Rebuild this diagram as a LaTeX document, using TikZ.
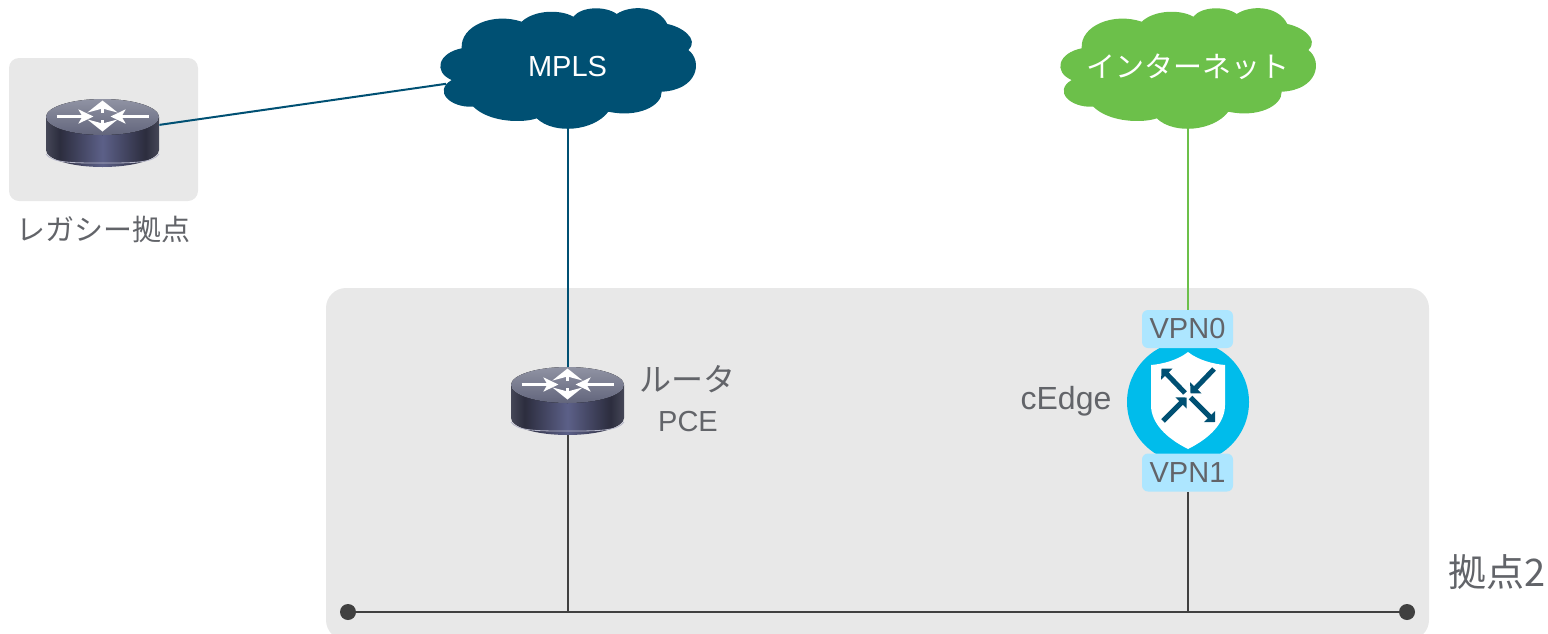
\documentclass[tikz,border=0pt]{standalone}
\usepackage{fontspec}
\setmainfont{Liberation Sans}
\newfontfamily\jpfont{Noto Sans CJK JP}
\usetikzlibrary{arrows.meta}
\definecolor{mplsblue}{HTML}{005073}
\definecolor{netgreen}{HTML}{6CC04A}
\definecolor{sitegray}{HTML}{E8E8E8}
\definecolor{labelgray}{HTML}{626469}
\definecolor{busgray}{HTML}{404040}
\definecolor{edgecyan}{HTML}{00BCEB}
\definecolor{tagblue}{HTML}{ADE6FF}
\definecolor{rtrb}{HTML}{454757}
\definecolor{rtrd}{HTML}{2C2D3E}
\definecolor{rtrm}{HTML}{5C6088}
\definecolor{rtrtop}{HTML}{9093A3}
\definecolor{rtrlow}{HTML}{62657C}
\pgfdeclarehorizontalshading{rtrbody}{100bp}{color(0bp)=(rtrb); color(25bp)=(rtrb); color(31bp)=(rtrd); color(50bp)=(rtrm); color(69bp)=(rtrd); color(75bp)=(rtrb); color(100bp)=(rtrb)}
\tikzset{
  lbl/.style={text=labelgray,font=\fontsize{14.5}{17}\selectfont,inner sep=0pt,align=center},
  lblbig/.style={lbl,font=\fontsize{16}{19}\selectfont},
  lblwhite/.style={text=white,font=\fontsize{14.5}{17}\selectfont,inner sep=0pt,minimum width=121pt,minimum height=60pt},
  rtrnode/.style={inner sep=0pt,minimum width=56.5pt,minimum height=34pt},
  tag/.style={fill=tagblue,rounded corners=3pt,text=labelgray,font=\fontsize{14.5}{17}\selectfont,inner sep=0pt,minimum width=45.5pt,minimum height=19pt},
  busdot/.style={circle,fill=busgray,inner sep=0pt,minimum size=8pt},
  hhead/.style={white,line width=1.4pt,-{Stealth[length=7.5pt,width=7pt,inset=2pt]}},
  vhead/.style={white,line width=1.8pt,-{Stealth[length=6pt,width=15pt,inset=2pt]}},
  shieldarrow/.style={mplsblue,line width=2.5pt,-{Triangle[angle=90:5.5pt]}},
  pics/cloud/.style={code={
    \fill[#1] (-46.3,-44.3) .. controls (-34,-56) and (-8,-57) .. (5.3,-49.3)
      .. controls (14,-60) and (38,-60) .. (48.7,-52)
      .. controls (62,-61) and (90,-61) .. (99.3,-42)
      .. controls (113,-39.5) and (132,-27) .. (120.3,-16)
      .. controls (135,-5) and (130,24) .. (93.7,25.7)
      .. controls (94,40) and (70,52) .. (40.3,45.7)
      .. controls (26,65) and (-14,69) .. (-31.3,52.3)
      .. controls (-44,57) and (-78,57) .. (-94.7,40.7)
      .. controls (-118,42) and (-135,25) .. (-116.3,14)
      .. controls (-135,6) and (-130,-13) .. (-106.3,-17.7)
      .. controls (-108,-40) and (-75,-54) .. cycle;
  }},
  pics/router/.style={code={
    \shade[shading=rtrbody] (-56.5,-16) -- (-56.5,17)
      .. controls (-56.5,26.4) and (-31.2,34) .. (0,34)
      .. controls (31.2,34) and (56.5,26.4) .. (56.5,17) -- (56.5,-16) -- cycle;
    \draw[white!55!rtrm,line width=.4pt] (-56.5,21)
      .. controls (-50,30) and (-31.2,30) .. (0,30)
      .. controls (31.2,30) and (50,30) .. (56.5,21);
    \fill[top color=rtrtop,bottom color=rtrlow] (0,-16) ellipse [x radius=56.5,y radius=18];
    \draw[hhead] (-46,-16.5) -- (-9,-16.5);
    \draw[hhead] (46,-16.5) -- (8,-16.5);
    \draw[vhead] (0,-20) -- (0,-32.5);
    \draw[vhead] (0,-13) -- (0,-1.5);
  }}
}
\begin{document}
\begin{tikzpicture}[x=.5pt,y=-.5pt]
\useasboundingbox (0,0) rectangle (1548,633);
\clip (0,0) rectangle (1548,633);

\fill[sitegray,rounded corners=5pt] (9,58) rectangle (198,201);
\fill[sitegray,rounded corners=10pt] (326,288) rectangle (1429,640);

\pic at (568,66) {cloud=mplsblue};
\pic at (1188,66) {cloud=netgreen};
\pic at (102.5,133) {router};
\pic at (567.5,401) {router};

\node[lblwhite] (mpls) at (567.5,66.5) {MPLS};
\node[lblwhite] (inet) at (1187.5,66.5) {\jpfont インターネット};
\node[rtrnode] (legacy) at (102.5,133) {};
\node[rtrnode] (pce) at (567.5,401) {};

\node[lbl] (legacylbl) at (104,229) {\jpfont レガシー拠点};
\node[lblbig] (rtrlbl) at (687,379) {\jpfont ルータ};
\node[lbl] (pcelbl) at (688,422) {PCE};
\node[lblbig] (edgelbl) at (1066,401) {cEdge};
\node[lbl,font=\fontsize{19}{22}\selectfont] (sitelbl) at (1497,572) {\jpfont 拠点2};

\fill[edgecyan] (1188,402) circle [radius=61];
\fill[white] (1188,352) .. controls (1198,360) and (1213,364) .. (1225,365) -- (1225,405)
  .. controls (1225,423) and (1210,438) .. (1188,449)
  .. controls (1166,438) and (1151,423) .. (1151,405) -- (1151,365)
  .. controls (1163,364) and (1178,360) .. cycle;
\draw[shieldarrow] (1185,393) -- (1161.5,368.5);
\draw[shieldarrow] (1214,369) -- (1190.5,393.5);
\draw[shieldarrow] (1163,421) -- (1186.5,397.5);
\draw[shieldarrow] (1190.5,397.5) -- (1215,422);

\node[tag] (vpn0) at (1187.5,329) {VPN0};
\node[tag] (vpn1) at (1187.5,472.5) {VPN1};
\node[busdot] (busl) at (348,612) {};
\node[busdot] (busr) at (1407,612) {};
\coordinate (pcetap) at (567.5,612);
\coordinate (edgetap) at (1187.5,612);

\draw[mplsblue,line width=1pt] (legacy) -- (mpls);
\draw[mplsblue,line width=1pt] (mpls) -- (pce);
\draw[netgreen,line width=1pt] (inet) -- (vpn0);
\draw[busgray,line width=1pt] (pce) -- (pcetap);
\draw[busgray,line width=1pt] (vpn1) -- (edgetap);
\draw[busgray,line width=1.1pt] (busl) -- (busr);
\end{tikzpicture}
\end{document}
